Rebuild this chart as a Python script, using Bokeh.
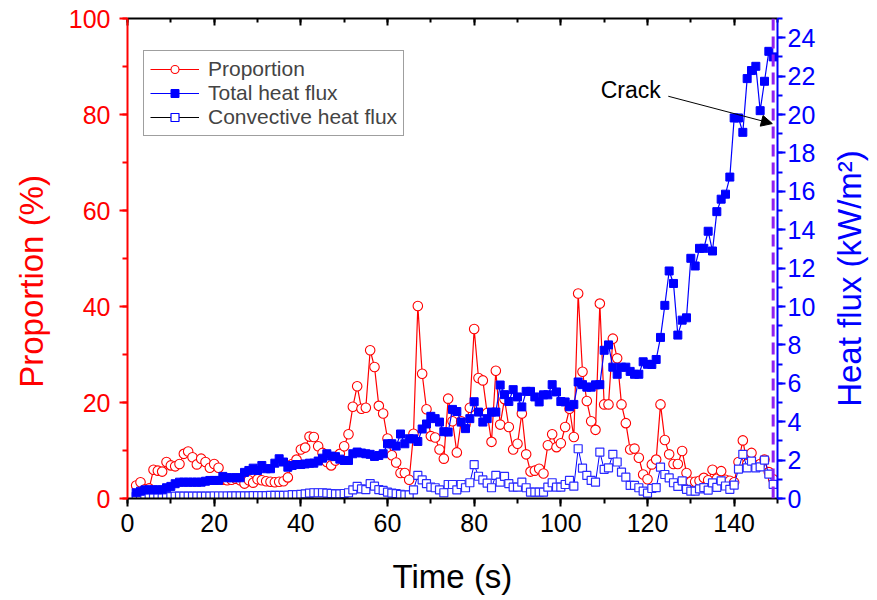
import math
from bokeh.plotting import figure
from bokeh.models import (Range1d, LinearAxis, SingleIntervalTicker, Span, Arrow,
                          NormalHead, Label, Legend, LegendItem, CustomJSTickFormatter)
from bokeh.embed import file_html
from bokeh.resources import INLINE

# ---------------- data ----------------
time_s = [2, 3, 4, 5, 6, 7, 8, 9, 10, 11,
          12, 13, 14, 15, 16, 17, 18, 19, 20, 21,
          22, 23, 24, 25, 26, 27, 28, 29, 30, 31,
          32, 33, 34, 35, 36, 37, 38, 39, 40, 41,
          42, 43, 44, 45, 46, 47, 48, 49, 50, 51,
          52, 53, 54, 55, 56, 57, 58, 59, 60, 61,
          62, 63, 64, 65, 66, 67, 68, 69, 70, 71,
          72, 73, 74, 75, 76, 77, 78, 79, 80, 81,
          82, 83, 84, 85, 86, 87, 88, 89, 90, 91,
          92, 93, 94, 95, 96, 97, 98, 99, 100, 101,
          102, 103, 104, 105, 106, 107, 108, 109, 110, 111,
          112, 113, 114, 115, 116, 117, 118, 119, 120, 121,
          122, 123, 124, 125, 126, 127, 128, 129, 130, 131,
          132, 133, 134, 135, 136, 137, 138, 139, 140, 141,
          142, 143, 144, 145, 146, 147, 148, 149]

proportion = [2.7, 3.4, 1.9, 2.1, 6.0, 5.8, 5.6, 7.6, 6.9, 6.7,
              7.2, 9.3, 9.8, 8.6, 7.1, 8.3, 7.6, 6.4, 7.2, 6.4,
              3.9, 3.8, 3.9, 4.1, 3.8, 3.1, 3.8, 3.3, 4.0, 3.8,
              3.6, 3.5, 3.4, 3.5, 3.6, 4.4, 7.2, 8.1, 10.2, 10.6,
              12.9, 12.8, 10.9, 9.5, 7.6, 6.9, 7.9, 9.3, 10.9, 13.4,
              19.1, 23.4, 18.7, 18.9, 30.9, 27.4, 19.3, 17.7, 12.5, 9.0,
              7.5, 5.3, 5.3, 3.9, 13.5, 40.1, 26.0, 18.6, 13.0, 12.7,
              10.2, 8.3, 20.8, 16.1, 9.6, 16.1, 15.4, 18.9, 35.3, 25.1,
              24.6, 17.8, 11.8, 26.6, 15.4, 20.7, 14.9, 10.2, 11.4, 17.7,
              9.2, 5.6, 5.8, 6.2, 5.2, 11.1, 13.4, 10.7, 11.5, 14.9,
              18.7, 12.8, 42.7, 26.4, 20.3, 16.1, 14.3, 40.6, 19.6, 19.6,
              33.3, 29.2, 19.6, 15.7, 10.2, 10.4, 8.5, 5.0, 4.0, 7.1,
              8.1, 19.6, 12.2, 9.2, 7.2, 7.2, 9.9, 5.3, 3.5, 3.5,
              3.7, 4.3, 3.8, 6.0, 4.1, 5.7, 3.9, 3.7, 3.4, 7.6,
              12.1, 7.2, 9.5, 6.9, 7.2, 8.1, 5.5, 4.0]

total_flux = [0.30, 0.38, 0.45, 0.45, 0.45, 0.45, 0.45, 0.56, 0.63, 0.77,
              0.85, 0.85, 0.85, 0.85, 0.85, 0.85, 0.90, 0.94, 0.94, 0.94,
              1.15, 1.08, 1.08, 1.08, 1.08, 1.36, 1.46, 1.58, 1.46, 1.72,
              1.55, 1.55, 1.84, 2.07, 1.90, 1.63, 1.72, 1.77, 1.77, 1.80,
              1.84, 1.84, 1.95, 2.10, 2.33, 2.21, 2.18, 2.05, 1.98, 1.98,
              2.33, 2.42, 2.37, 2.33, 2.30, 2.19, 2.24, 2.33, 2.85, 2.85,
              2.73, 3.36, 2.85, 3.11, 3.11, 2.97, 3.62, 3.88, 4.28, 4.16,
              3.98, 3.48, 3.46, 4.64, 4.53, 3.98, 3.64, 4.16, 5.04, 4.50,
              3.98, 4.16, 4.50, 4.50, 5.91, 5.41, 5.05, 5.67, 5.29, 4.77,
              5.58, 5.58, 5.29, 5.03, 5.40, 5.40, 5.93, 5.55, 5.05, 5.03,
              4.78, 4.90, 6.07, 5.93, 5.80, 5.80, 5.92, 5.93, 7.72, 8.00,
              6.84, 6.47, 6.84, 6.84, 6.62, 6.47, 6.47, 7.12, 6.99, 6.98,
              7.24, 8.39, 10.06, 11.85, 11.20, 8.51, 9.29, 9.41, 12.51, 12.11,
              13.03, 13.03, 13.92, 12.89, 14.94, 15.59, 15.85, 16.74, 19.82, 19.82,
              19.07, 21.87, 22.29, 22.51, 20.20, 21.73, 23.29, 23.00]

convective_flux = [0.10, 0.10, 0.10, 0.10, 0.10, 0.10, 0.10, 0.10, 0.10, 0.12,
                   0.12, 0.12, 0.12, 0.12, 0.12, 0.12, 0.12, 0.12, 0.13, 0.13,
                   0.13, 0.13, 0.14, 0.14, 0.14, 0.14, 0.14, 0.15, 0.15, 0.15,
                   0.15, 0.16, 0.16, 0.16, 0.16, 0.17, 0.20, 0.20, 0.22, 0.24,
                   0.28, 0.30, 0.30, 0.30, 0.28, 0.26, 0.24, 0.24, 0.26, 0.30,
                   0.45, 0.63, 0.50, 0.46, 0.77, 0.64, 0.46, 0.42, 0.33, 0.28,
                   0.25, 0.21, 0.19, 0.19, 0.45, 1.20, 0.97, 0.77, 0.59, 0.56,
                   0.45, 0.30, 0.73, 0.73, 0.45, 0.73, 0.56, 0.82, 1.76, 1.16,
                   0.97, 0.80, 0.56, 1.20, 0.85, 1.15, 0.77, 0.59, 0.59, 0.85,
                   0.56, 0.33, 0.33, 0.33, 0.33, 0.59, 0.82, 0.59, 0.59, 0.73,
                   0.94, 0.64, 2.59, 1.58, 1.20, 0.94, 0.85, 2.42, 1.52, 1.60,
                   2.30, 1.90, 1.37, 1.11, 0.68, 0.68, 0.56, 0.38, 0.28, 0.52,
                   0.57, 1.63, 1.25, 1.07, 0.82, 0.63, 0.92, 0.48, 0.38, 0.38,
                   0.50, 0.57, 0.44, 0.81, 0.58, 0.92, 0.65, 0.48, 0.70, 1.53,
                   2.30, 1.60, 1.95, 1.60, 1.65, 2.00, 1.27, 0.74]

crack_time = 149
series_labels = ["Proportion", "Total heat flux", "Convective heat flux"]
x_label = "Time (s)"
left_label = "Proportion (%)"
right_label = "Heat flux (kW/m\u00b2)"

FONT = "Liberation Sans"
RED = "#ff0000"
BLUE = "#0000ff"
NBSP = "\u00a0"

p = figure(frame_width=650, frame_height=480,
           x_range=Range1d(0, 150), y_range=Range1d(0, 100),
           output_backend="svg", toolbar_location=None,
           min_border_left=127, min_border_right=100,
           min_border_top=18, min_border_bottom=100)
p.extra_y_ranges = {"flux": Range1d(0, 25)}
p.xgrid.visible = False
p.ygrid.visible = False
p.outline_line_color = None
p.background_fill_color = "white"
p.border_fill_color = "white"


def style_axis(ax, color, label_standoff):
    ax.axis_line_width = 2
    ax.axis_line_color = color
    ax.major_tick_line_color = color
    ax.minor_tick_line_color = color
    ax.major_tick_line_width = 2
    ax.minor_tick_line_width = 2
    ax.major_tick_in = 0
    ax.major_tick_out = 8
    ax.minor_tick_in = 0
    ax.minor_tick_out = 5
    ax.major_label_text_font = FONT
    ax.major_label_text_font_size = "25px"
    ax.major_label_text_color = color
    ax.major_label_standoff = label_standoff
    ax.axis_label_text_font = FONT
    ax.axis_label_text_font_size = "33px"
    ax.axis_label_text_font_style = "normal"
    ax.axis_label_text_color = color


# bottom axis
xa = p.xaxis[0]
xa.ticker = SingleIntervalTicker(interval=20, num_minor_ticks=2)
style_axis(xa, "black", 7)
xa.axis_label = x_label
xa.axis_label_standoff = 23

# left axis (trailing no-break spaces shift the centred title slightly down)
ya = p.yaxis[0]
ya.ticker = SingleIntervalTicker(interval=20, num_minor_ticks=2)
style_axis(ya, RED, 9)
ya.axis_label = left_label + NBSP * 5
ya.axis_label_standoff = 16

# right axis
ra = LinearAxis(y_range_name="flux",
                ticker=SingleIntervalTicker(interval=2, num_minor_ticks=2))
style_axis(ra, BLUE, 2)
ra.axis_label = right_label
ra.axis_label_standoff = 31
try:
    ra.axis_label_orientation = math.pi / 2
except Exception:
    pass
try:
    ra.axis_label_align = "start"
    ra.axis_label = NBSP * 10 + right_label
except Exception:
    pass
p.add_layout(ra, "right")

# top frame axis (no labels, inward ticks)
ta = LinearAxis(ticker=SingleIntervalTicker(interval=20, num_minor_ticks=2),
                formatter=CustomJSTickFormatter(code="return ''"))
ta.axis_line_width = 2
ta.axis_line_color = "black"
ta.major_tick_line_width = 2
ta.minor_tick_line_width = 2
ta.major_tick_in = 7
ta.major_tick_out = 0
ta.minor_tick_in = 4
ta.minor_tick_out = 0
ta.major_label_standoff = 0
p.add_layout(ta, "above")

# ---------------- series ----------------
r_prop_line = p.line(time_s, proportion, line_color=RED, line_width=1.2)
r_prop_pts = p.scatter(time_s, proportion, marker="circle", size=9.5,
                       fill_color="white", line_color=RED, line_width=1.1)

r_conv_line = p.line(time_s, convective_flux, y_range_name="flux",
                     line_color=BLUE, line_width=1)
r_conv_pts = p.scatter(time_s, convective_flux, y_range_name="flux",
                       marker="square", size=8, fill_color="white",
                       line_color="#2a2aff", line_width=1.2)

r_tot_line = p.line(time_s, total_flux, y_range_name="flux",
                    line_color=BLUE, line_width=1.2)
r_tot_pts = p.scatter(time_s, total_flux, y_range_name="flux",
                      marker="square", size=8, fill_color=BLUE,
                      line_color=BLUE)

# legend-only renderers for the convective entry (black line, blue hollow square),
# one point placed far outside the visible ranges
d_line = p.line([-100, -90], [-100, -100], line_color="black", line_width=1)
d_pts = p.scatter([-100], [-100], marker="square", size=7, fill_color="white",
                  line_color=BLUE, line_width=1.2)

legend = Legend(items=[
    LegendItem(label=series_labels[0], renderers=[r_prop_line, r_prop_pts]),
    LegendItem(label=series_labels[1], renderers=[r_tot_line, r_tot_pts]),
    LegendItem(label=series_labels[2], renderers=[d_line, d_pts]),
], location=(16, 362))
legend.border_line_color = "#404040"
legend.border_line_width = 1
legend.background_fill_color = "white"
legend.background_fill_alpha = 1
legend.label_text_font = FONT
legend.label_text_font_size = "21px"
legend.glyph_width = 49
legend.glyph_height = 20
legend.label_height = 20
legend.spacing = 0
legend.padding = 6
legend.margin = 0
legend.label_standoff = 9
p.add_layout(legend)

# ---------------- crack marker ----------------
p.add_layout(Span(location=crack_time, dimension="height", line_color="#9020f0",
                  line_width=3, line_dash="12 6"))
p.add_layout(Arrow(end=NormalHead(size=11, fill_color="black", line_color="black"),
                   x_start=124.8, y_start=83.8, x_end=148.8, y_end=78.1,
                   line_color="black", line_width=1))
p.add_layout(Label(x=109.2, y=85.2, text="Crack", text_font=FONT,
                   text_font_size="23px", text_baseline="middle",
                   text_align="left", text_color="black"))

open("out.html", "w").write(file_html(p, INLINE))
